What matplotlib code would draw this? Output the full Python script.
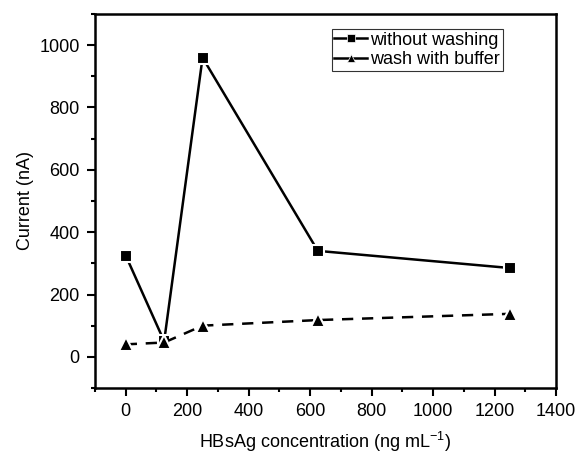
import matplotlib
matplotlib.use('Agg')
import matplotlib.pyplot as plt
from matplotlib.ticker import MultipleLocator

plt.rcParams['font.family'] = ['Liberation Sans', 'DejaVu Sans']

# data
conc = [0, 125, 250, 625, 1250]
without_washing = [325, 50, 960, 340, 285]
wash_buffer = [40, 46, 100, 118, 138]

fig = plt.figure(figsize=(5.78, 4.54), dpi=100)
ax = fig.add_axes([95 / 578, 1 - 388 / 454, (556 - 95) / 578, (388 - 14) / 454])

ax.plot(conc, without_washing, '-', color='black', lw=1.8, marker='s', ms=9,
        mec='white', mew=1.5, mfc='black', label='without washing')
ax.plot(conc, wash_buffer, '--', color='black', lw=1.8, dashes=(4.5, 3.5), marker='^', ms=10,
        mec='white', mew=1.5, mfc='black', label='wash with buffer')

ax.set_xlim(-100, 1400)
ax.set_ylim(-100, 1100)
ax.xaxis.set_major_locator(MultipleLocator(200))
ax.xaxis.set_minor_locator(MultipleLocator(100))
ax.yaxis.set_major_locator(MultipleLocator(200))
ax.yaxis.set_minor_locator(MultipleLocator(100))
ax.tick_params(which='major', direction='out', length=6, width=1.5, labelsize=13, pad=5)
ax.tick_params(which='minor', direction='out', length=3, width=1.5)
for s in ax.spines.values():
    s.set_linewidth(1.8)

ax.set_xlabel('HBsAg concentration (ng mL$^{\\mathregular{-1}}$)', fontsize=13, labelpad=7)
ax.set_ylabel('Current (nA)', fontsize=13, labelpad=4)

leg = ax.legend(loc='upper right', bbox_to_anchor=(0.885, 0.96), fontsize=13,
                frameon=True, fancybox=False, edgecolor='black', handlelength=1.8,
                handletextpad=0.2, borderpad=0.15, labelspacing=0.15, borderaxespad=0)
leg.get_frame().set_linewidth(0.8)
for h in leg.get_lines():
    h.set_linestyle('-')
    h.set_markersize(6)
    h.set_markeredgewidth(0.5)

plt.savefig('out.png', dpi=100)
plt.close()
